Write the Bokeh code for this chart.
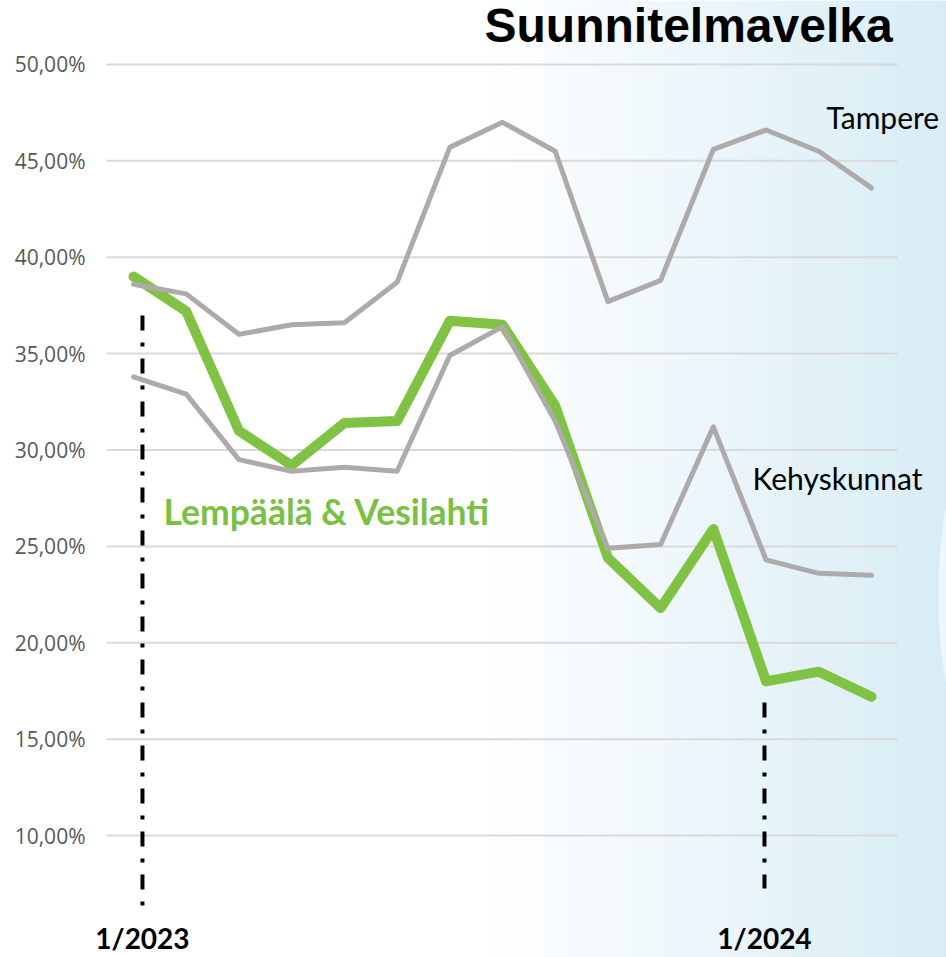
import numpy as np
from bokeh.plotting import figure
from bokeh.models import FixedTicker, CustomJSTickFormatter, Label, ColumnDataSource
from bokeh.embed import file_html
from bokeh.resources import INLINE

# ---- data ----
months = ["1/2023", "2/2023", "3/2023", "4/2023", "5/2023", "6/2023", "7/2023",
          "8/2023", "9/2023", "10/2023", "11/2023", "12/2023", "1/2024", "2/2024", "3/2024"]
tampere = [38.6, 38.1, 36.0, 36.5, 36.6, 38.7, 45.7, 47.0, 45.5, 37.7, 38.8, 45.6, 46.6, 45.5, 43.6]
kehyskunnat = [33.8, 32.9, 29.5, 28.9, 29.1, 28.9, 34.9, 36.4, 31.5, 24.9, 25.1, 31.2, 24.3, 23.6, 23.5]
lempaala = [39.0, 37.2, 31.0, 29.2, 31.4, 31.5, 36.7, 36.5, 32.3, 24.4, 21.8, 25.9, 18.0, 18.5, 17.2]
y_ticks = [10, 15, 20, 25, 30, 35, 40, 45, 50]
period_labels = ["1/2023", "1/2024"]

idx = list(range(len(months)))

# ---- layout ----
X0, X1 = -0.740, 15.423
Y0, Y1 = 3.671, 53.320

p = figure(width=946, height=957, output_backend="svg", toolbar_location=None,
           x_range=(X0, X1), y_range=(Y0, Y1), x_axis_location=None,
           min_border_left=94, min_border_right=0, min_border_top=0, min_border_bottom=0)
p.outline_line_color = None
p.background_fill_color = "white"
p.border_fill_color = "white"
p.xgrid.visible = False
p.ygrid.visible = False

# background gradient (white -> light blue towards the right), drawn as thin strips
gx0 = 6.58
n = 300
edges = np.linspace(gx0, X1 + 0.05, n + 1)
t = (np.arange(n) + 0.5) / n
end = np.array([0xd7, 0xec, 0xf5], dtype=float)
cols = []
for tt in t:
    c = 255 + (end - 255) * tt
    cols.append("#%02x%02x%02x" % tuple(int(round(v)) for v in c))
p.quad(left=edges[:-1], right=edges[1:] + 0.01, bottom=Y0, top=Y1,
       fill_color=cols, line_color=None)

# faint light oval at right edge
p.ellipse(x=16.03, y=22.45, width=1.52, height=15.6, fill_color="#eef7fb", line_color=None)

# horizontal gridlines
p.segment(x0=[-0.512] * len(y_ticks), x1=[14.493] * len(y_ticks), y0=y_ticks, y1=y_ticks,
          line_color="#d9d9d9", line_width=2)

# y axis
ax = p.yaxis[0]
ax.ticker = FixedTicker(ticks=y_ticks)
ax.formatter = CustomJSTickFormatter(code="return tick.toFixed(2).replace('.', ',') + '%';")
ax.axis_line_color = None
ax.major_tick_line_color = None
ax.minor_tick_line_color = None
ax.major_label_standoff = 3
ax.major_label_text_font = "Open Sans"
ax.major_label_text_font_size = "21px"
ax.major_label_text_color = "#595959"

# series
src = ColumnDataSource(dict(x=idx, tampere=tampere, kehys=kehyskunnat, lemp=lempaala))
p.line("x", "lemp", source=src, line_color="#80c243", line_width=10,
       line_cap="round", line_join="round")
p.line("x", "tampere", source=src, line_color="#aeaaaa", line_width=5,
       line_cap="round", line_join="round")
p.line("x", "kehys", source=src, line_color="#aeaaaa", line_width=5,
       line_cap="round", line_join="round")

# dash-dot period markers
div_x = [0.17, 11.97]
p.segment(x0=div_x, x1=div_x, y0=[36.98, 16.9], y1=[6.37, 7.25],
          line_color="black", line_width=4, line_dash="15 12 4 12")

for lab, xx in zip(period_labels, div_x):
    p.add_layout(Label(x=xx, y=4.66, text=lab, text_align="center", text_baseline="alphabetic",
                       text_font="Lato", text_font_style="bold", text_font_size="28px",
                       text_color="black"))

# texts
p.add_layout(Label(x=6.659, y=52.02, text="Suunnitelmavelka", text_align="left",
                   text_baseline="alphabetic", text_font="Liberation Sans",
                   text_font_style="bold", text_font_size="48px", text_color="black"))
p.add_layout(Label(x=13.146, y=47.30, text="Tampere", text_align="left",
                   text_baseline="alphabetic", text_font="Lato",
                   text_font_size="30px", text_color="black"))
p.add_layout(Label(x=11.743, y=28.57, text="Kehyskunnat", text_align="left",
                   text_baseline="alphabetic", text_font="Lato",
                   text_font_size="30px", text_color="black"))
p.add_layout(Label(x=0.569, y=26.81, text="Lempäälä & Vesilahti", text_align="left",
                   text_baseline="alphabetic", text_font="Lato", text_font_style="bold",
                   text_font_size="35.5px", text_color="#7ac143"))

open("out.html", "w").write(file_html(p, INLINE))
